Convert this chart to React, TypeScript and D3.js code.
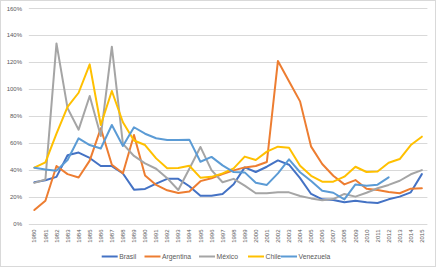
import React from "react";
import * as d3 from "d3";

const years: string[] = d3.range(1980, 2016).map(String);
const yTicks: number[] = [0, 0.2, 0.4, 0.6, 0.8, 1.0, 1.2, 1.4, 1.6];

const brasil: (number | null)[] = [31, 32.5, 35, 51, 53, 49, 43, 43, 37.5, 25.5, 26, 30, 33.5, 33.5, 28, 21, 21, 22.3, 29.5, 42, 38.6, 42.5, 47.2, 44, 34, 22.3, 18.3, 17.8, 16.1, 17.3, 16.1, 15.6, 18.3, 20.3, 23.5, 37];
const argentina: (number | null)[] = [10.4, 17.3, 43, 37, 34.5, 47, 71, 44, 37.6, 66, 36, 29, 25, 23, 24.2, 31.8, 33.9, 37, 39.8, 42, 43, 46, 121, 106, 91, 57.4, 44.5, 35.8, 29.4, 32.6, 26.2, 25.2, 23.7, 22.8, 26.2, 26.5];
const mexico: (number | null)[] = [30.5, 33, 134, 86, 70, 95, 65.3, 131.6, 59.5, 50.5, 45, 41, 34, 25.2, 41, 57.2, 40, 31, 33.5, 28.5, 22.8, 22.8, 23.5, 23.5, 20.8, 19, 17.6, 18.5, 22.3, 20.3, 23.2, 26.5, 29, 32.1, 36.9, 40];
const chile: (number | null)[] = [41.8, 45.8, 67, 87, 97.4, 118.5, 73.5, 98.7, 75.5, 62, 58.6, 48.7, 41.3, 41.5, 43.2, 34.4, 35, 37.6, 41.3, 50, 47.5, 53.7, 57.4, 56.6, 43.3, 35.8, 31.4, 31.4, 35.1, 42.5, 38.6, 39, 45.5, 48.2, 58.6, 64.8];
const venezuela: (number | null)[] = [41.8, 40.5, 39.6, 47.5, 63.6, 58.6, 56, 73.5, 57.9, 71.8, 67, 63.6, 62.3, 62.3, 62.6, 46.2, 49.8, 43.5, 38.5, 38.3, 30.6, 29, 37.6, 48, 38.4, 31.9, 24.7, 23.2, 18.3, 29.4, 28.4, 29.2, 34.6, null, null, null];

const seriesNames: string[] = ["Brasil", "Argentina", "México", "Chile", "Venezuela"];
const seriesColors: string[] = ["#4472C4", "#ED7D31", "#A5A5A5", "#FFC000", "#5B9BD5"];
const seriesData = [brasil, argentina, mexico, chile, venezuela];

const W = 436;
const H = 268;
const FONT = "'Liberation Sans', Arial, sans-serif";

export default function App() {
  const x = d3.scaleBand<string>().domain(years).range([28.8, 427.4]).padding(0);
  const y = d3.scaleLinear().domain([0, 1.6]).range([224, 8.4]);
  const cx = (yr: string) => (x(yr) ?? 0) + x.bandwidth() / 2;

  const line = d3
    .line<number | null>()
    .defined((d) => d !== null)
    .x((_, i) => cx(years[i]))
    .y((d) => y((d as number) / 100));

  const legendX = [101.7, 144.5, 199, 248, 281];

  return (
    <svg
      width={W}
      height={H}
      style={{ position: "absolute", left: 0, top: 0, background: "#fff" }}
      fontFamily={FONT}
    >
      <rect x={0.5} y={0.5} width={435} height={266} fill="#fff" stroke="#D9D9D9" />
      {yTicks.map((t) => (
        <g key={t}>
          <line x1={28.8} x2={427.4} y1={Math.round(y(t)) + 0.5} y2={Math.round(y(t)) + 0.5} stroke="#D9D9D9" strokeWidth={1} />
          <text x={22} y={y(t)} dy="0.35em" textAnchor="end" fontSize={6} fill="#595959">
            {d3.format(".0%")(t)}
          </text>
        </g>
      ))}
      {years.map((yr) => (
        <text
          key={yr}
          transform={`translate(${cx(yr)},229.5) rotate(-90)`}
          dy="0.35em"
          textAnchor="end"
          fontSize={6}
          fill="#595959"
        >
          {yr}
        </text>
      ))}
      {seriesData.map((s, i) => (
        <path
          key={seriesNames[i]}
          d={line(s) ?? ""}
          fill="none"
          stroke={seriesColors[i]}
          strokeWidth={2}
          strokeLinejoin="round"
          strokeLinecap="round"
        />
      ))}
      {seriesNames.map((n, i) => (
        <g key={n} transform={`translate(${legendX[i]},256.5)`}>
          <line x1={0} x2={16} y1={0} y2={0} stroke={seriesColors[i]} strokeWidth={2} />
          <text x={17.5} y={0} dy="0.35em" fontSize={6.8} fill="#595959">
            {n}
          </text>
        </g>
      ))}
    </svg>
  );
}
